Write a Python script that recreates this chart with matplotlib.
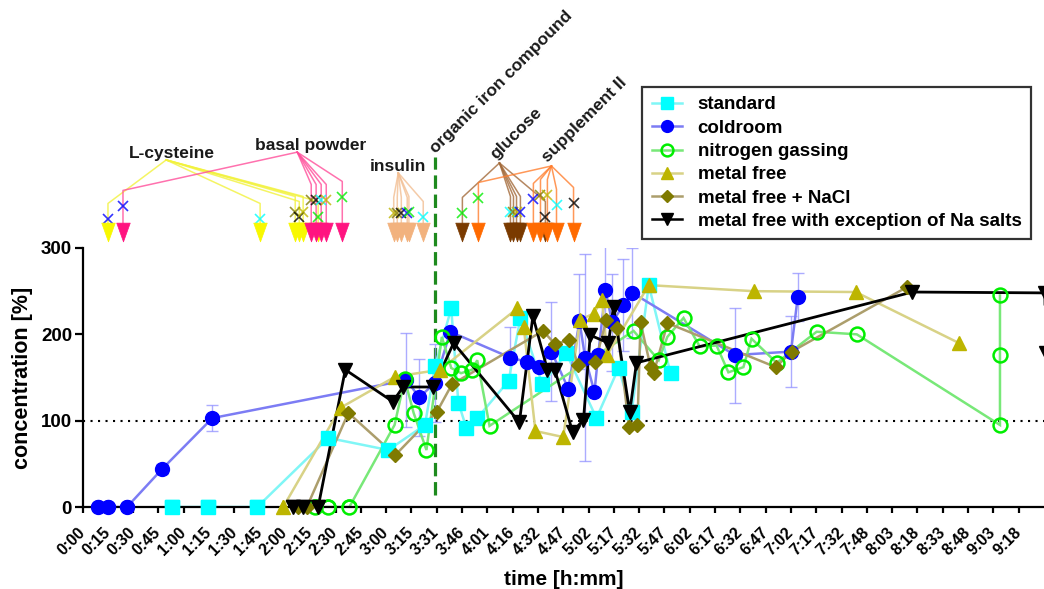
import matplotlib
matplotlib.use("Agg")
import matplotlib.pyplot as plt
from matplotlib.lines import Line2D
from matplotlib.path import Path

plt.rcParams['font.family'] = ['Liberation Sans', 'DejaVu Sans']
plt.rcParams['font.weight'] = 'bold'

# ---------------- axis labels ----------------
tick_labels = ["0:00", "0:15", "0:30", "0:45", "1:00", "1:15", "1:30", "1:45",
               "2:00", "2:15", "2:30", "2:45", "3:00", "3:15", "3:31", "3:46",
               "4:01", "4:16", "4:32", "4:47", "5:02", "5:17", "5:32", "5:47",
               "6:02", "6:17", "6:32", "6:47", "7:02", "7:17", "7:32", "7:48",
               "8:03", "8:18", "8:33", "8:48", "9:03", "9:18"]

# ---------------- measured series (time in min, concentration in %) ----------------
standard_t = [53.1, 74.5, 103.6, 145.7, 181.3, 203.0, 209.0, 218.6, 222.8, 227.5,
              234.0, 252.6, 259.6, 272.6, 286.8, 304.7, 317.8, 325.5, 335.7, 348.6]
standard_y = [0, 0, 0, 80, 66, 95, 163, 230, 121, 92,
              103, 146, 219, 142, 178, 103, 161, 110, 257, 155]

coldroom_t = [9.2, 15.1, 26.4, 47.2, 77.0, 192.0, 199.7, 209.0, 218.0, 253.7,
              263.7, 270.5, 278.0, 288.0, 294.6, 298.0, 303.5, 305.7, 310.0, 314.0,
              320.7, 326.0, 386.7, 420.0, 424.0]
coldroom_y = [0, 0, 0, 44, 103, 147, 127, 144, 203, 173,
              168, 162, 180, 137, 215, 173, 133, 176, 251, 214,
              234, 248, 176, 180, 243]
coldroom_err = [0, 0, 0, 6, 15, 54, 45, 45, 0, 35,
                0, 0, 57, 0, 55, 120, 0, 0, 55, 56,
                53, 52, 55, 41, 28]

nitrogen_t = [137.9, 145.7, 158.2, 185.0, 191.0, 196.3, 203.9, 213.0, 218.6, 224.4,
              231.0, 234.0, 241.3, 326.7, 341.6, 346.7, 356.3, 365.9, 375.9, 382.9,
              391.8, 396.6, 411.5, 435.2, 459.0, 543.9, 543.9, 543.9]
nitrogen_y = [0, 0, 0, 95, 148, 109, 66, 197, 161, 155,
              159, 170, 94, 204, 170, 197, 219, 186, 187, 156,
              162, 195, 167, 203, 200, 95, 176, 245]

metal_free_t = [119.0, 153.0, 185.4, 212.0, 257.8, 261.6, 268.5, 285.0, 295.0, 303.0,
                308.0, 311.0, 335.7, 397.8, 458.4, 519.5]
metal_free_y = [0, 115, 151, 159, 230, 208, 88, 81, 217, 224,
                240, 176, 257, 250, 249, 190]

nacl_t = [128.0, 133.0, 157.6, 185.4, 210.0, 219.0, 273.0, 280.0, 288.7, 294.0,
          304.0, 310.6, 317.0, 324.0, 329.0, 330.8, 336.8, 338.6, 346.8, 411.0,
          420.4, 489.0]
nacl_y = [0, 0, 109, 60, 110, 142, 204, 189, 193, 164,
          168, 217, 207, 93, 95, 214, 162, 155, 213, 162,
          180, 255]

na_salts_t = [125.0, 130.6, 139.7, 155.8, 184.0, 190.0, 208.0, 220.0, 259.0, 267.0,
              275.6, 280.0, 290.5, 297.0, 301.0, 311.8, 314.8, 324.4, 328.4, 492.0,
              570.5, 571.0]
na_salts_y = [0, 0, 0, 159, 122, 139, 139, 190, 98, 221,
              159, 159, 87, 101, 199, 190, 232, 110, 167, 249,
              248, 178]

# ---------------- feeding events: time, height of the cross, series ----------------
lcys_t = [15.1, 105.3, 126.1, 128.5, 130.8, 139.7]
lcys_mark = [333.6, 333.6, 341.7, 335.9, 341.7, 335.9]
lcys_series = ["coldroom", "standard", "nacl", "na_salts", "metal_free", "nitrogen"]

basal_t = [24.0, 135.6, 138.5, 141.5, 144.5, 154.0]
basal_mark = [348.7, 355.6, 355.6, 355.6, 355.6, 359.1]
basal_series = ["coldroom", "nacl", "na_salts", "standard", "metal_free", "nitrogen"]

insulin_t = [184.5, 186.6, 189.0, 192.5, 193.5, 202.0]
insulin_mark = [340.6, 340.6, 340.6, 340.6, 341.7, 335.9]
insulin_series = ["metal_free", "nacl", "na_salts", "coldroom", "nitrogen", "standard"]

glucose_t = [225.2, 253.7, 255.5, 257.3, 259.6, 274.4]
glucose_mark = [340.6, 341.7, 341.7, 341.7, 341.7, 335.9]
glucose_series = ["nitrogen", "standard", "nacl", "metal_free", "coldroom", "na_salts"]

supp_t = [234.7, 267.3, 271.5, 275.6, 281.0, 291.1]
supp_mark = [357.9, 356.8, 361.4, 361.4, 350.0, 352.1]
supp_series = ["nitrogen", "coldroom", "nacl", "metal_free", "standard", "na_salts"]

iron_t = 209.2

# ---------------- styles ----------------
series_color = {"standard": "#00FFFF", "coldroom": "#0000FF", "nitrogen": "#00EE00",
                "metal_free": "#BDB500", "nacl": "#7F7A00", "na_salts": "#000000"}

fig = plt.figure(figsize=(10.44, 5.89), dpi=100)
ax = fig.add_axes([82.5 / 1044, 1 - 507 / 589, (1044 - 82.5) / 1044, 259 / 589])
ax.set_xlim(0, 570)
ax.set_ylim(0, 300)

# reference level
ax.plot([0, 570], [100, 100], color="black", lw=1.5, ls=(0, (1, 2.6)), zorder=1)

# coldroom error bars
eb_t = [t for t, e in zip(coldroom_t, coldroom_err) if e > 0]
eb_y = [y for y, e in zip(coldroom_y, coldroom_err) if e > 0]
eb_e = [e for e in coldroom_err if e > 0]
ax.errorbar(eb_t, eb_y, yerr=eb_e, fmt="none", ecolor="#9090FF", elinewidth=1.0,
            capsize=4.5, capthick=1.0, alpha=0.75, zorder=1.5)

series = [
    ("standard", standard_t, standard_y, "#80F6F6", dict(marker="s", ms=9.5, mfc="#00FFFF", mec="#00FFFF")),
    ("coldroom", coldroom_t, coldroom_y, "#7C7CF4", dict(marker="o", ms=10, mfc="#0000FF", mec="#0000FF")),
    ("nitrogen gassing", nitrogen_t, nitrogen_y, "#78E878", dict(marker="o", ms=10, mfc="none", mec="#00EE00", mew=1.8)),
    ("metal free", metal_free_t, metal_free_y, "#D8D286", dict(marker="^", ms=10.5, mfc="#BDB500", mec="#BDB500")),
    ("metal free + NaCl", nacl_t, nacl_y, "#AC9E6C", dict(marker="D", ms=7, mfc="#7F7A00", mec="#7F7A00")),
    ("metal free with exception of Na salts", na_salts_t, na_salts_y, "#000000", dict(marker="v", ms=10.5, mfc="#000000", mec="#000000")),
]

handles = []
for i, (name, t, y, lc, mk) in enumerate(series):
    lw = 2.0 if name.startswith("metal free with") else 1.8
    ax.plot(t, y, color=lc, lw=lw, zorder=2 + 0.1 * i, solid_joinstyle="miter")
    ax.plot(t, y, ls="none", zorder=3 + 0.1 * i, clip_on=True, **mk)
    hk = dict(mk)
    hk["ms"] = mk["ms"] * 0.85
    handles.append(Line2D([], [], color=lc, lw=1.8, **hk))

# markers that sit on the x axis should not be cut by it
for name, t, y, lc, mk in series:
    t0 = [a for a, b in zip(t, y) if b == 0]
    ax.plot(t0, [0] * len(t0), ls="none", zorder=4, clip_on=False, **mk)

# ---------------- feeding annotations above the plot ----------------
tri = Path([(-0.72, -1.0), (0.72, -1.0), (0.0, 1.0), (-0.72, -1.0)],
           [Path.MOVETO, Path.LINETO, Path.LINETO, Path.CLOSEPOLY])
tri_down = tri.transformed(matplotlib.transforms.Affine2D().scale(1, -1))
tri_y = 318.5

feeds = [
    ("L-cysteine", "#F8F800", "#F2F23C", (49.6, 402.0), lcys_t, lcys_mark, lcys_series),
    ("basal powder", "#FF1480", "#FF4E9A", (127.3, 411.0), basal_t, basal_mark, basal_series),
    ("insulin", "#F2B27E", "#F2BE92", (187.2, 387.0), insulin_t, insulin_mark, insulin_series),
    ("glucose", "#7A3A00", "#A36A3A", (247.2, 398.5), glucose_t, glucose_mark, glucose_series),
    ("supplement II", "#FF6A00", "#FF7E2E", (278.0, 395.0), supp_t, supp_mark, supp_series),
]

for name, tcol, lcol, (axx, axy), ts, ms_, ss in feeds:
    for t, m, s in zip(ts, ms_, ss):
        bend = m + 18
        ax.plot([axx, t, t], [axy, bend, tri_y], color=lcol, lw=1.1, alpha=0.8,
                clip_on=False, zorder=5)
    for t, m, s in zip(ts, ms_, ss):
        ax.plot([t], [m], ls="none", marker="x", ms=6.5, mew=1.2,
                color=series_color[s], alpha=0.8, clip_on=False, zorder=6)
    ax.plot(ts, [tri_y] * len(ts), ls="none", marker=tri_down, ms=13.5,
            mfc=tcol, mec=tcol, mew=0.5, clip_on=False, zorder=7)

label_kw = dict(fontsize=12.5, fontweight="bold", color="#1A1A1A", clip_on=False, zorder=8)
ax.text(53.1, 410.0, "L-cysteine", ha="center", va="center", **label_kw)
ax.text(135.0, 419.0, "basal powder", ha="center", va="center", **label_kw)
ax.text(187.2, 394.0, "insulin", ha="center", va="center", **label_kw)
ax.text(209.5, 409.0, "organic iron compound", ha="left", va="baseline",
        rotation=45, rotation_mode="anchor", **label_kw)
ax.text(245.0, 402.0, "glucose", ha="left", va="baseline",
        rotation=45, rotation_mode="anchor", **label_kw)
ax.text(276.0, 398.5, "supplement II", ha="left", va="baseline",
        rotation=45, rotation_mode="anchor", **label_kw)

# organic iron compound addition
ax.plot([iron_t, iron_t], [14, 405], color="#1E8A1E", lw=2.3, ls=(0, (4.2, 1.8)),
        clip_on=False, zorder=1)

# ---------------- axes styling ----------------
for side in ("top", "right"):
    ax.spines[side].set_visible(False)
for side in ("left", "bottom"):
    ax.spines[side].set_linewidth(1.6)

ax.set_yticks([0, 100, 200, 300])
ax.tick_params(axis="y", length=6, width=1.6, labelsize=13.5, pad=1.5)
ax.set_xticks([15 * i for i in range(len(tick_labels))])
ax.set_xticklabels(tick_labels, rotation=45, ha="right", va="center",
                   rotation_mode="anchor", fontsize=11.5, fontweight="bold")
ax.tick_params(axis="x", length=4.5, width=1.6, pad=12)
for lab in ax.get_yticklabels():
    lab.set_fontweight("bold")

ax.set_ylabel("concentration [%]", fontsize=15.5, fontweight="bold")
ax.yaxis.set_label_coords(-0.051, 0.5)
ax.set_xlabel("time [h:mm]", fontsize=15, fontweight="bold")
ax.xaxis.set_label_coords(0.5, -0.245)

leg = fig.legend(handles, [s[0] for s in series], loc="upper right",
                 bbox_to_anchor=(1031 / 1044, 1 - 87 / 589),
                 prop={"size": 13.5, "weight": "bold"}, frameon=True, fancybox=False,
                 edgecolor="black", handlelength=1.6, handletextpad=0.85,
                 labelspacing=0.33, borderpad=0.5, borderaxespad=0.0)
leg.get_frame().set_linewidth(1.6)

fig.savefig("out.png", dpi=100)
